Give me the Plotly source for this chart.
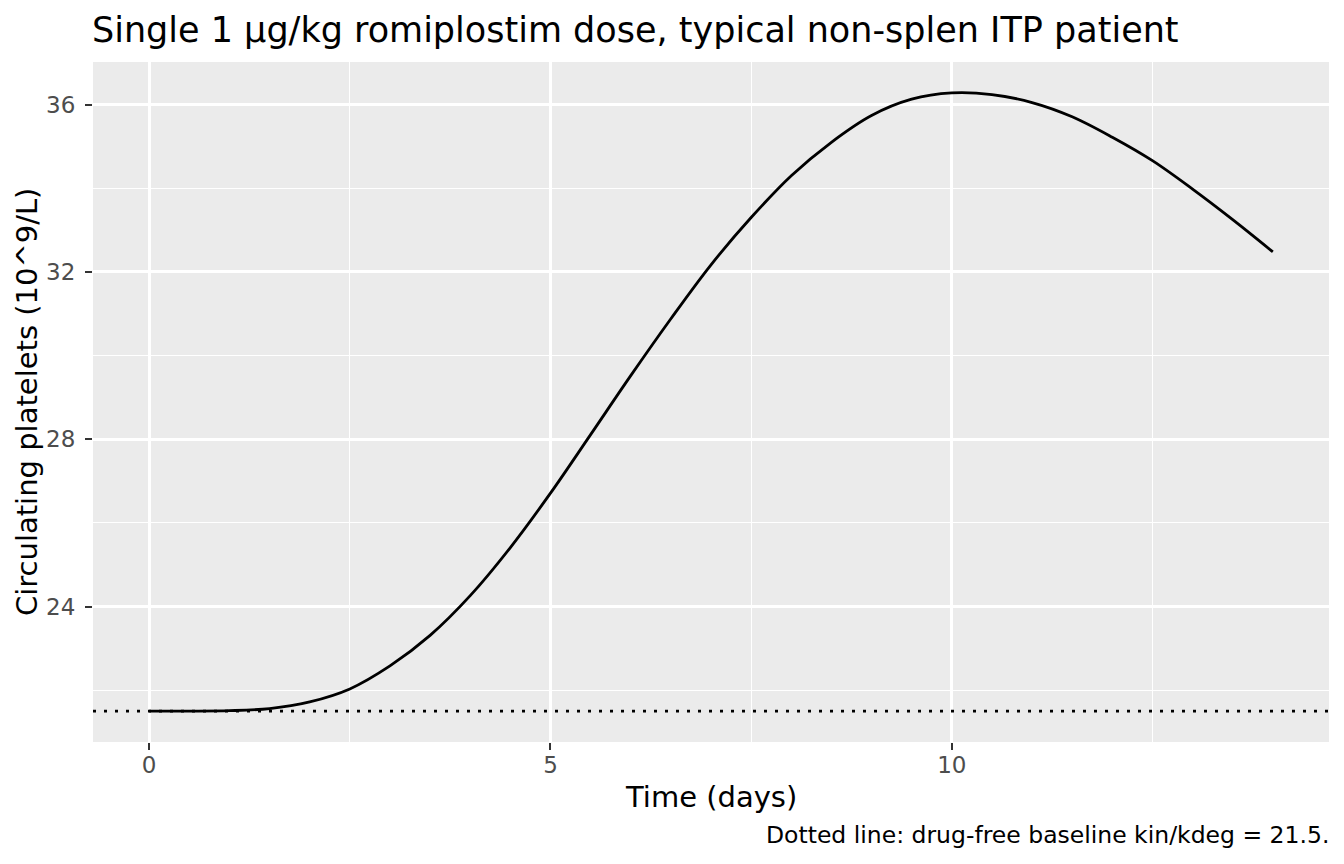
import plotly.graph_objects as go

# Data
time_days = [0, 0.5, 1.0, 1.5, 2.0, 2.5, 3.0, 3.5, 4.0, 4.5, 5.0, 5.5, 6.0, 6.5, 7.0,
             7.5, 8.0, 8.5, 9.0, 9.5, 10.0, 10.5, 11.0, 11.5, 12.0, 12.5, 13.0, 13.5, 14.0]
platelets = [21.50, 21.50, 21.51, 21.56, 21.72, 22.03, 22.58, 23.31, 24.26, 25.41, 26.71,
             28.11, 29.52, 30.88, 32.17, 33.30, 34.30, 35.10, 35.74, 36.13, 36.28, 36.24,
             36.05, 35.71, 35.22, 34.66, 33.98, 33.25, 32.48]
baseline = 21.5
x_ticks = [0, 5, 10]
y_ticks = [24, 28, 32, 36]

title_text = "Single 1 µg/kg romiplostim dose, typical non-splen ITP patient"
x_title = "Time (days)"
y_title = "Circulating platelets (10^9/L)"
caption = "Dotted line: drug-free baseline kin/kdeg = 21.5."

FONT = "DejaVu Sans"
OFF = 8  # page body margin
W, H = 1328, 848
L, R, T, B = 85, 7, 54, 114
PW, PH = W - L - R, H - T - B

def px(page_x):
    return (page_x - OFF - L) / PW

def py(page_y):
    return (H - B - (page_y - OFF)) / PH

xmin, xmax = min(time_days), max(time_days)
ymin, ymax = min(platelets + [baseline]), max(platelets)
xr = [xmin - 0.05 * (xmax - xmin), xmax + 0.05 * (xmax - xmin)]
yr = [ymin - 0.05 * (ymax - ymin), ymax + 0.05 * (ymax - ymin)]

fig = go.Figure()
fig.add_trace(go.Scatter(x=xr, y=[baseline, baseline], mode="lines",
                         line=dict(color="black", width=2.8, dash="3px,8px"),
                         hoverinfo="skip", showlegend=False))
fig.add_trace(go.Scatter(x=time_days, y=platelets, mode="lines",
                         line=dict(color="black", width=2.8, shape="spline", smoothing=1.0),
                         showlegend=False))

axis_common = dict(
    showgrid=True, gridcolor="white", gridwidth=2.6, zeroline=False,
    showline=False, ticks="outside", ticklen=7, tickwidth=2, tickcolor="#333333",
    tickfont=dict(family=FONT, size=23, color="#4D4D4D"),
)

fig.update_layout(
    width=W, height=H,
    margin=dict(l=L, r=R, t=T, b=B, pad=0),
    paper_bgcolor="white", plot_bgcolor="#EBEBEB",
    font=dict(family=FONT, color="black"),
    xaxis=dict(range=xr, tickvals=x_ticks, ticktext=[str(v) for v in x_ticks],
               minor=dict(dtick=2.5, tick0=0, showgrid=True, gridcolor="white", gridwidth=1.3, ticks=""),
               ticklabelstandoff=-5,
               **axis_common),
    yaxis=dict(range=yr, tickvals=y_ticks, ticktext=[str(v) for v in y_ticks],
               minor=dict(dtick=2, tick0=0, showgrid=True, gridcolor="white", gridwidth=1.3, ticks=""),
               ticklabelstandoff=5,
               **axis_common),
    annotations=[
        dict(text=title_text, xref="paper", yref="paper", x=px(90), y=py(30),
             xanchor="left", yanchor="middle", showarrow=False,
             font=dict(family=FONT, size=35, color="black")),
        dict(text=x_title, xref="paper", yref="paper", x=px(711), y=py(797),
             xanchor="center", yanchor="middle", showarrow=False,
             font=dict(family=FONT, size=29, color="black")),
        dict(text=y_title, xref="paper", yref="paper", x=px(27), y=py(402),
             xanchor="center", yanchor="middle", showarrow=False, textangle=-90,
             font=dict(family=FONT, size=29, color="black")),
        dict(text=caption, xref="paper", yref="paper", x=px(1331), y=py(835),
             xanchor="right", yanchor="middle", showarrow=False,
             font=dict(family=FONT, size=23.5, color="black")),
    ],
)

fig.write_html("out.html")
